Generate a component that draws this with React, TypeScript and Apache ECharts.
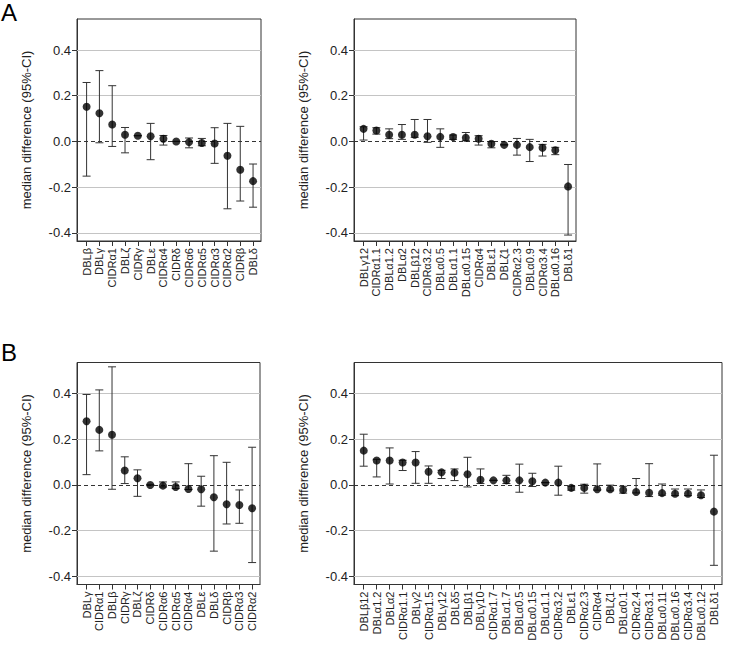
import React, { useEffect, useRef } from "react";
import * as echarts from "echarts";

// ---- Panel A, left ----
const aLeftCats = ["DBLβ", "DBLγ", "CIDRα1", "DBLζ", "CIDRγ", "DBLε", "CIDRα4", "CIDRδ", "CIDRα6", "CIDRα5", "CIDRα3", "CIDRα2", "CIDRβ", "DBLδ"];
const aLeftMed = [0.152, 0.123, 0.074, 0.029, 0.025, 0.023, 0.012, 0.0, -0.003, -0.007, -0.009, -0.063, -0.124, -0.174];
const aLeftLo = [-0.152, -0.006, -0.022, -0.05, 0.025, -0.08, -0.016, 0.0, -0.028, -0.019, -0.096, -0.295, -0.261, -0.288];
const aLeftHi = [0.258, 0.31, 0.244, 0.061, 0.025, 0.079, 0.026, 0.0, 0.015, 0.013, 0.06, 0.079, 0.066, -0.099];

// ---- Panel A, right ----
const aRightCats = ["DBLγ12", "CIDRα1.1", "DBLα1.2", "DBLα2", "DBLβ12", "CIDRα3.2", "DBLα0.5", "DBLα1.1", "DBLα0.15", "CIDRα4", "DBLε1", "DBLζ1", "CIDRα2.3", "DBLα0.9", "CIDRα3.4", "DBLα0.16", "DBLδ1"];
const aRightMed = [0.055, 0.048, 0.029, 0.029, 0.029, 0.023, 0.02, 0.019, 0.016, 0.012, -0.01, -0.015, -0.015, -0.025, -0.028, -0.039, -0.197];
const aRightLo = [0.006, 0.032, 0.012, 0.009, 0.018, -0.004, -0.026, 0.009, 0.003, -0.016, -0.028, -0.015, -0.06, -0.088, -0.064, -0.058, -0.41];
const aRightHi = [0.064, 0.06, 0.055, 0.074, 0.096, 0.096, 0.055, 0.028, 0.039, 0.025, -0.001, -0.015, 0.013, 0.009, -0.013, -0.026, -0.101];

// ---- Panel B, left ----
const bLeftCats = ["DBLγ", "CIDRα1", "DBLβ", "CIDRγ", "DBLζ", "CIDRδ", "CIDRα6", "CIDRα5", "CIDRα4", "DBLε", "DBLδ", "CIDRβ", "CIDRα3", "CIDRα2"];
const bLeftMed = [0.279, 0.241, 0.22, 0.063, 0.029, 0.0, -0.003, -0.009, -0.018, -0.019, -0.054, -0.085, -0.088, -0.102];
const bLeftLo = [0.045, 0.149, -0.019, 0.006, -0.05, 0.0, -0.009, -0.016, -0.02, -0.093, -0.29, -0.171, -0.168, -0.34];
const bLeftHi = [0.396, 0.416, 0.517, 0.123, 0.066, 0.0, 0.013, 0.013, 0.093, 0.038, 0.128, 0.099, -0.022, 0.165];

// ---- Panel B, right ----
const bRightCats = ["DBLβ12", "DBLα1.2", "DBLα2", "CIDRα1.1", "DBLγ2", "CIDRα1.5", "DBLγ12", "DBLδ5", "DBLβ1", "DBLγ10", "CIDRα1.7", "DBLα1.7", "DBLα0.5", "DBLα0.15", "DBLα1.1", "CIDRα3.2", "DBLε1", "CIDRα2.3", "CIDRα4", "DBLζ1", "DBLα0.1", "CIDRα2.4", "CIDRα3.1", "DBLα0.11", "DBLα0.16", "CIDRα3.4", "DBLα0.12", "DBLδ1"];
const bRightMed = [0.15, 0.107, 0.107, 0.098, 0.098, 0.058, 0.055, 0.053, 0.047, 0.023, 0.02, 0.02, 0.02, 0.016, 0.01, 0.01, -0.013, -0.013, -0.019, -0.019, -0.022, -0.031, -0.034, -0.036, -0.039, -0.039, -0.045, -0.117];
const bRightLo = [0.082, 0.035, 0.004, 0.063, 0.007, 0.007, 0.028, 0.019, -0.009, 0.006, 0.02, 0.006, -0.032, -0.007, 0.01, -0.045, -0.023, -0.036, -0.023, -0.026, -0.036, -0.035, -0.051, -0.045, -0.047, -0.047, -0.055, -0.352];
const bRightHi = [0.222, 0.112, 0.162, 0.108, 0.146, 0.083, 0.064, 0.07, 0.121, 0.07, 0.02, 0.042, 0.091, 0.051, 0.01, 0.082, -0.006, 0.003, 0.092, -0.001, -0.006, 0.028, 0.093, 0.004, -0.018, -0.018, -0.022, 0.13];

const yTicks = [-0.4, -0.2, 0, 0.2, 0.4];
const panelLetters = ["A", "B"];
const yTitle = "median difference (95%-CI)";

const FONT = "'Liberation Sans', Arial, Helvetica, sans-serif";

const panels = [
  { cats: aLeftCats, med: aLeftMed, lo: aLeftLo, hi: aLeftHi, grid: { left: 77, top: 19, width: 184, height: 222 } },
  { cats: aRightCats, med: aRightMed, lo: aRightLo, hi: aRightHi, grid: { left: 354, top: 19, width: 222, height: 222 } },
  { cats: bLeftCats, med: bLeftMed, lo: bLeftLo, hi: bLeftHi, grid: { left: 77, top: 362.5, width: 183, height: 222 } },
  { cats: bRightCats, med: bRightMed, lo: bRightLo, hi: bRightHi, grid: { left: 354, top: 362.5, width: 368, height: 222 } },
];

function buildOption() {
  const grids: any[] = [];
  const xAxes: any[] = [];
  const yAxes: any[] = [];
  const series: any[] = [];
  panels.forEach((p, i) => {
    const n = p.cats.length;
    const idx = p.cats.map((_, k) => k);
    grids.push({
      ...p.grid,
      show: true,
      borderColor: "#333",
      borderWidth: 1,
      backgroundColor: "transparent",
      containLabel: false,
    });
    xAxes.push({
      type: "value",
      gridIndex: i,
      position: "bottom",
      min: -0.75,
      max: n - 1 + 0.62,
      splitLine: { show: false },
      axisLine: { show: true, onZero: false, lineStyle: { color: "#333", width: 1 } },
      axisTick: { show: true, customValues: idx, length: 5, lineStyle: { color: "#333" } },
      axisLabel: {
        show: true,
        customValues: idx,
        rotate: 90,
        margin: 7,
        fontSize: 11,
        color: "#222",
        fontFamily: FONT,
        formatter: (v: number) => p.cats[Math.round(v)] ?? "",
      },
    });
    yAxes.push({
      type: "value",
      gridIndex: i,
      position: "left",
      min: -0.436,
      max: 0.536,
      splitLine: { show: false },
      axisLine: { show: true, onZero: false, lineStyle: { color: "#333", width: 1 } },
      axisTick: { show: true, customValues: yTicks, length: 5, lineStyle: { color: "#333" } },
      axisLabel: {
        show: true,
        customValues: yTicks,
        margin: 6,
        fontSize: 13,
        color: "#222",
        fontFamily: FONT,
        formatter: (v: number) => v.toFixed(1),
      },
      name: yTitle,
      nameLocation: "middle",
      nameRotate: 90,
      nameGap: 44,
      nameTextStyle: { fontSize: 13, color: "#222", fontFamily: FONT },
    });
    const ptData = p.med.map((m, k) => [k, m]);
    const barData = p.med.map((_, k) => [k, p.lo[k], p.hi[k]]);
    series.push({
      type: "custom",
      xAxisIndex: i,
      yAxisIndex: i,
      silent: true,
      encode: { x: 0, y: [1, 2] },
      data: barData,
      z: 3,
      renderItem: (params: any, api: any) => {
        const x = api.value(0);
        const pLo = api.coord([x, api.value(1)]);
        const pHi = api.coord([x, api.value(2)]);
        const w = 4;
        const st = { stroke: "#333", lineWidth: 1 };
        return {
          type: "group",
          children: [
            { type: "line", shape: { x1: pLo[0], y1: pLo[1], x2: pHi[0], y2: pHi[1] }, style: st },
            { type: "line", shape: { x1: pLo[0] - w, y1: pLo[1], x2: pLo[0] + w, y2: pLo[1] }, style: st },
            { type: "line", shape: { x1: pHi[0] - w, y1: pHi[1], x2: pHi[0] + w, y2: pHi[1] }, style: st },
          ],
        };
      },
    });
    series.push({
      type: "scatter",
      xAxisIndex: i,
      yAxisIndex: i,
      silent: true,
      symbol: "circle",
      symbolSize: 8,
      itemStyle: { color: "#000" },
      data: ptData,
      z: 4,
      markLine: {
        silent: true,
        symbol: "none",
        label: { show: false },
        z: 1,
        data: [
          { yAxis: 0.4, lineStyle: { color: "#c4c4c4", type: "solid", width: 1 } },
          { yAxis: 0.2, lineStyle: { color: "#c4c4c4", type: "solid", width: 1 } },
          { yAxis: -0.2, lineStyle: { color: "#c4c4c4", type: "solid", width: 1 } },
          { yAxis: -0.4, lineStyle: { color: "#c4c4c4", type: "solid", width: 1 } },
          { yAxis: 0, lineStyle: { color: "#333", type: [4, 3], width: 1 } },
        ],
      },
    });
  });

  return {
    animation: false,
    backgroundColor: "#fff",
    grid: grids,
    xAxis: xAxes,
    yAxis: yAxes,
    series,
    graphic: [
      { type: "text", left: 1, top: 0, style: { text: panelLetters[0], fontSize: 24, fill: "#000", fontFamily: FONT } },
      { type: "text", left: 1, top: 340, style: { text: panelLetters[1], fontSize: 24, fill: "#000", fontFamily: FONT } },
    ],
  };
}

export default function App() {
  const ref = useRef<HTMLDivElement>(null);
  useEffect(() => {
    if (!ref.current) return;
    const chart = echarts.init(ref.current, undefined, { renderer: "svg" });
    chart.setOption(buildOption() as any);
    return () => chart.dispose();
  }, []);
  return (
    <div
      ref={ref}
      style={{ position: "fixed", left: 0, top: 0, width: 729, height: 647, background: "#fff" }}
    />
  );
}
